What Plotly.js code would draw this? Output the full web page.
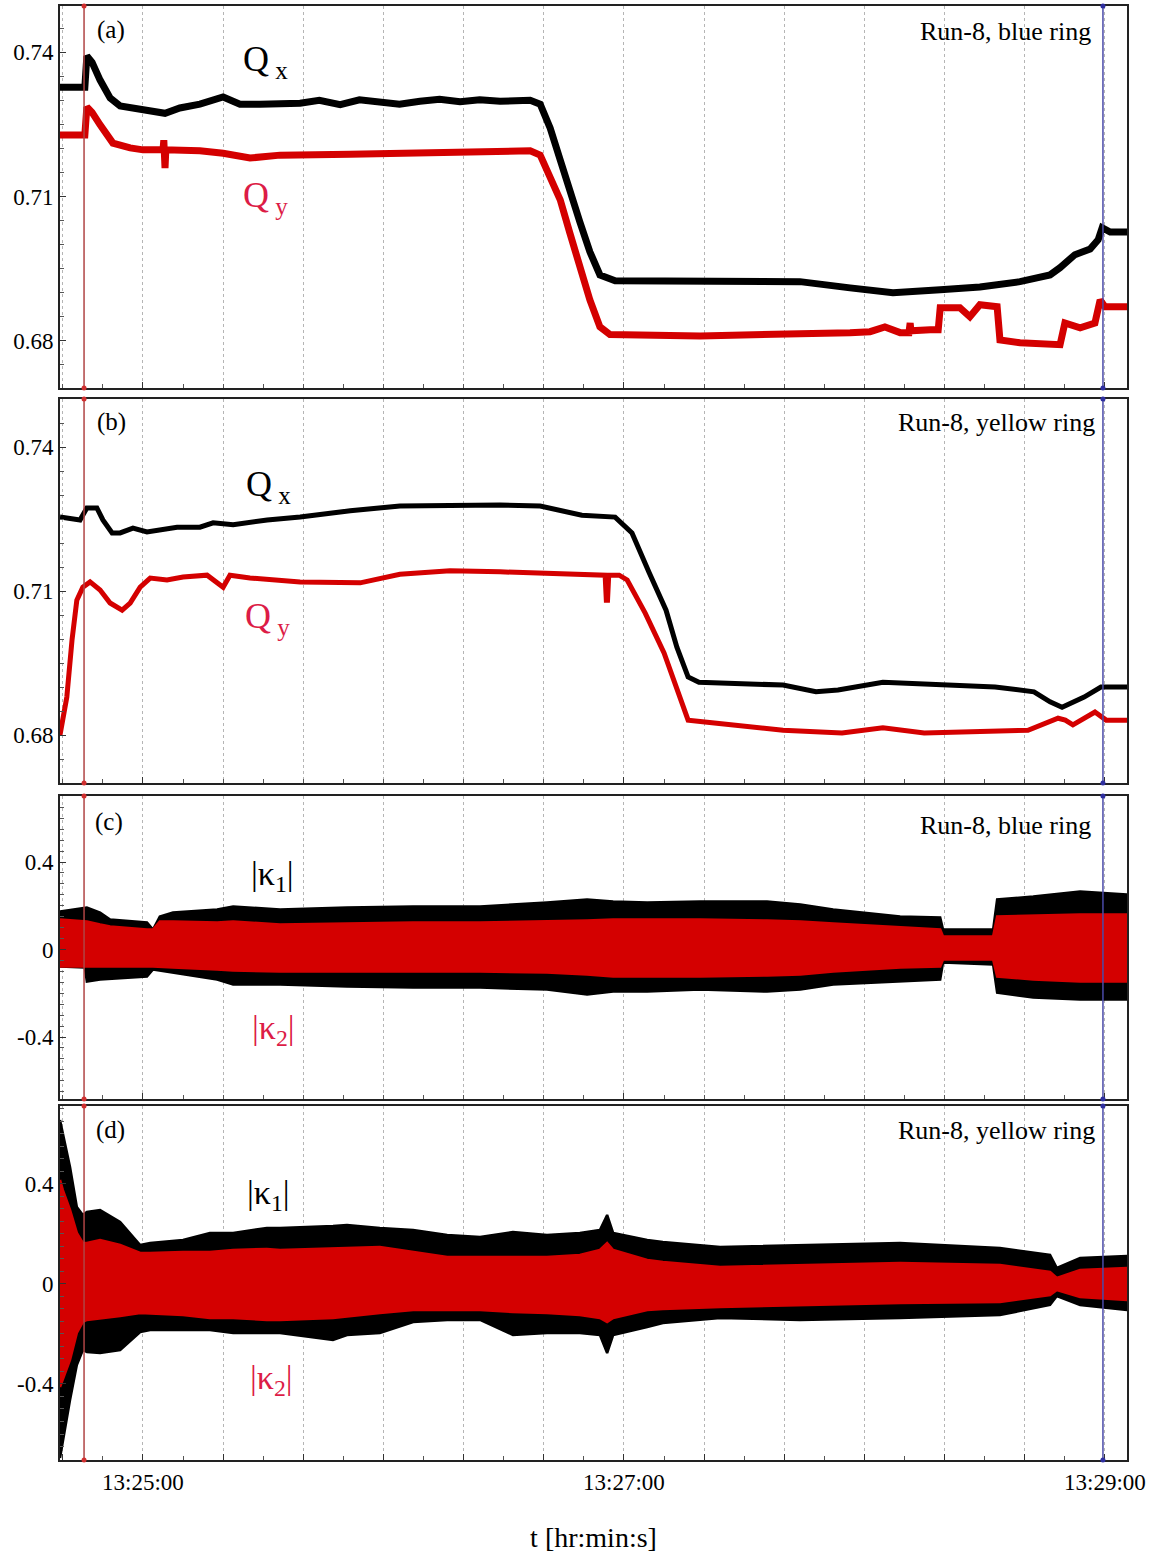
<!DOCTYPE html>
<html><head><meta charset="utf-8">
<script src="https://cdn.plot.ly/plotly-3.0.1.min.js"></script>
<style>body{margin:0;background:#fff}</style>
</head><body><div id="chart" style="width:1159px;height:1559px"></div>
<script>
// time in seconds after 13:24:00
const xGridTimes = [40,60,80,100,120,140,160,180,200,220,240,260,280,300];
const xTickLabels = ['','13:25:00','','','','','','13:27:00','','','','','','13:29:00'];
const cursorTimes = [45.3, 299.5];

// (a) blue ring tunes
const tA_Qx = [39.3,45.5,46.0,47.3,49.3,51.8,54.3,59.3,63.0,65.5,69.2,74.2,80.0,84.2,89.2,99.2,104.0,109.2,114.0,119.1,124.0,129.1,134.0,139.1,144.0,149.1,156.6,159.1,161.6,164.1,166.5,169.0,171.5,174.0,177.8,186.5,199.0,211.5,223.9,236.4,247.1,258.9,268.8,278.8,286.3,288.8,292.5,296.3,298.3,299.3,301.3,305.5];
const qxA = [0.7327,0.7327,0.7392,0.7379,0.7342,0.7305,0.7288,0.7280,0.7275,0.7273,0.7284,0.7292,0.7307,0.7292,0.7292,0.7294,0.7300,0.7291,0.7301,0.7296,0.7292,0.7298,0.7302,0.7297,0.7301,0.7298,0.7300,0.7292,0.7242,0.7176,0.7109,0.7047,0.6985,0.6937,0.6925,0.6925,0.6925,0.6925,0.6923,0.6910,0.6900,0.6906,0.6912,0.6923,0.6937,0.6952,0.6979,0.6991,0.7010,0.7035,0.7026,0.7026];
const tA_Qy = [39.3,45.5,46.0,47.3,49.3,52.5,56.8,60.0,65.0,65.2,65.5,65.7,74.2,80.0,86.7,94.2,111.7,129.1,144.1,156.6,159.1,161.6,164.1,166.5,169.0,171.5,174.0,176.5,199.0,223.9,236.4,241.4,245.1,248.9,251.1,251.4,251.6,256.4,258.4,258.9,263.8,266.3,268.8,273.1,273.8,278.8,288.8,290.0,293.8,297.5,298.8,300.0,305.5];
const qyA = [0.7228,0.7228,0.7286,0.7275,0.7249,0.7211,0.7201,0.7197,0.7197,0.7217,0.7159,0.7197,0.7195,0.7190,0.7180,0.7186,0.7188,0.7190,0.7192,0.7195,0.7186,0.7141,0.7093,0.7024,0.6954,0.6885,0.6829,0.6813,0.6810,0.6813,0.6817,0.6819,0.6829,0.6817,0.6817,0.6837,0.6821,0.6823,0.6823,0.6869,0.6869,0.6850,0.6875,0.6871,0.6802,0.6796,0.6792,0.6837,0.6827,0.6837,0.6885,0.6871,0.6871];

// (b) yellow ring tunes
const tB_Qx = [39.3,44.3,46.0,48.5,50.0,52.3,54.3,57.5,61.0,63.5,68.5,74.2,77.5,82.5,91.0,99.2,111.7,124.1,136.6,149.1,159.1,169.5,177.8,182.0,186.3,190.5,193.2,196.0,198.7,208.5,219.7,227.9,233.4,244.6,258.6,272.6,282.3,286.3,289.3,294.8,299.0,305.5];
const qxB = [0.7254,0.7248,0.7273,0.7273,0.7248,0.7221,0.7221,0.7231,0.7223,0.7227,0.7233,0.7233,0.7242,0.7238,0.7248,0.7254,0.7267,0.7277,0.7279,0.7279,0.7277,0.7258,0.7254,0.7221,0.7138,0.7060,0.6983,0.6921,0.6910,0.6908,0.6904,0.6890,0.6894,0.6910,0.6904,0.6900,0.6890,0.6869,0.6858,0.6879,0.6900,0.6900];
const tB_Qy = [39.3,41.0,42.3,43.5,45.0,46.8,49.3,51.8,54.8,56.8,59.3,61.8,66.0,70.0,76.0,78.5,80.0,81.7,86.7,99.2,114.2,124.1,136.6,149.1,164.1,175.3,175.6,175.9,176.2,178.8,180.8,185.3,190.0,193.7,196.0,200.2,219.7,234.4,244.6,254.9,262.4,280.8,288.3,290.1,292.0,297.5,300.3,305.5];
const qyB = [0.6800,0.6879,0.6998,0.7081,0.7108,0.7119,0.7102,0.7075,0.7060,0.7075,0.7108,0.7127,0.7123,0.7129,0.7133,0.7119,0.7108,0.7133,0.7127,0.7119,0.7117,0.7135,0.7142,0.7140,0.7135,0.7133,0.7081,0.7081,0.7133,0.7133,0.7123,0.7054,0.6971,0.6888,0.6831,0.6827,0.6810,0.6804,0.6815,0.6804,0.6806,0.6810,0.6835,0.6831,0.6821,0.6848,0.6831,0.6831];

// (c) blue ring coupling envelopes
const tC = [39.3,45.5,46.0,49.3,51.8,61.0,62.5,64.2,67.5,78.5,82.5,94.2,110.9,127.4,144.1,160.8,170.8,177.3,185.8,199.0,215.7,224.0,232.2,248.9,258.9,259.6,272.1,273.1,282.1,293.8,305.5];
const k1UpC = [0.1737,0.1920,0.1920,0.1691,0.1371,0.1234,0.0914,0.1508,0.1691,0.1828,0.1966,0.1828,0.1920,0.1966,0.1966,0.2148,0.2286,0.2194,0.2148,0.2194,0.2194,0.2057,0.1828,0.1508,0.1463,0.0914,0.0914,0.2286,0.2423,0.2651,0.2514];
const k1LoC = [-0.0777,-0.0823,-0.1463,-0.1371,-0.1326,-0.1234,-0.0914,-0.0960,-0.1051,-0.1371,-0.1600,-0.1600,-0.1691,-0.1737,-0.1737,-0.1828,-0.2057,-0.1920,-0.1920,-0.1828,-0.1920,-0.1828,-0.1600,-0.1463,-0.1371,-0.0594,-0.0686,-0.1966,-0.2194,-0.2286,-0.2286];
const k2UpC = [0.1371,0.1280,0.1280,0.1143,0.1051,0.0914,0.0914,0.1280,0.1280,0.1234,0.1280,0.1143,0.1188,0.1234,0.1234,0.1280,0.1326,0.1371,0.1371,0.1371,0.1326,0.1280,0.1188,0.1006,0.0914,0.0594,0.0594,0.1508,0.1554,0.1600,0.1600];
const k2LoC = [-0.0777,-0.0777,-0.0777,-0.0777,-0.0777,-0.0777,-0.0777,-0.0777,-0.0823,-0.0914,-0.0960,-0.1006,-0.1006,-0.1006,-0.1006,-0.1051,-0.1143,-0.1234,-0.1234,-0.1234,-0.1188,-0.1143,-0.1006,-0.0823,-0.0777,-0.0457,-0.0457,-0.1234,-0.1371,-0.1463,-0.1463];

// (d) yellow ring coupling envelopes
const tD = [39.3,40.0,41.8,43.5,45.0,46.0,49.3,54.3,59.3,61.8,70.0,76.7,82.5,90.9,94.2,107.4,110.9,119.1,127.4,135.9,144.1,152.3,160.8,169.0,174.0,175.8,177.3,185.8,189.7,204.0,223.9,248.9,273.8,286.3,288.0,293.8,305.5];
const k1UpD = [0.656,0.604,0.468,0.308,0.276,0.288,0.296,0.248,0.156,0.164,0.176,0.204,0.204,0.224,0.224,0.232,0.236,0.224,0.216,0.196,0.188,0.208,0.196,0.204,0.216,0.276,0.204,0.176,0.168,0.148,0.156,0.164,0.144,0.116,0.064,0.104,0.112];
const k1LoD = [-0.696,-0.624,-0.464,-0.324,-0.264,-0.272,-0.276,-0.264,-0.192,-0.184,-0.184,-0.184,-0.196,-0.196,-0.196,-0.224,-0.204,-0.196,-0.152,-0.144,-0.144,-0.204,-0.196,-0.196,-0.204,-0.276,-0.204,-0.172,-0.156,-0.136,-0.144,-0.136,-0.124,-0.084,-0.048,-0.084,-0.104];
const k2UpD = [0.416,0.376,0.296,0.204,0.164,0.164,0.176,0.156,0.124,0.124,0.128,0.128,0.136,0.140,0.136,0.144,0.144,0.148,0.128,0.108,0.108,0.108,0.108,0.116,0.136,0.164,0.136,0.096,0.088,0.068,0.076,0.084,0.076,0.048,0.024,0.056,0.064];
const k2LoD = [-0.412,-0.384,-0.304,-0.196,-0.152,-0.144,-0.136,-0.128,-0.116,-0.116,-0.124,-0.136,-0.136,-0.144,-0.144,-0.136,-0.128,-0.116,-0.104,-0.104,-0.104,-0.112,-0.116,-0.124,-0.136,-0.152,-0.136,-0.104,-0.100,-0.092,-0.084,-0.076,-0.072,-0.044,-0.024,-0.052,-0.064];

const qTicks = [0.68,0.71,0.74], qTickText = ['0.68','0.71','0.74'];
const kTicks = [-0.4,0,0.4], kTickText = ['-0.4','0','0.4'];

const BLACK = '#000000', RED = '#d40000', LABELRED = '#dc1c46';
const SERIF = '"Liberation Serif", "Times New Roman", serif';

function band(t, up, lo, color, xa, ya) {
  return {x: t.concat(t.slice().reverse()), y: up.concat(lo.slice().reverse()),
    xaxis: xa, yaxis: ya, mode: 'lines', fill: 'toself', fillcolor: color,
    line: {color: color, width: 2.5}, hoverinfo: 'skip', showlegend: false};
}
function line(t, v, color, w, xa, ya) {
  return {x: t, y: v, xaxis: xa, yaxis: ya, mode: 'lines',
    line: {color: color, width: w}, showlegend: false};
}

const data = [
  line(tA_Qx, qxA, BLACK, 7, 'x', 'y'),
  line(tA_Qy, qyA, RED, 7, 'x', 'y'),
  line(tB_Qx, qxB, BLACK, 5, 'x2', 'y2'),
  line(tB_Qy, qyB, RED, 5, 'x2', 'y2'),
  band(tC, k1UpC, k1LoC, BLACK, 'x3', 'y3'),
  band(tC, k2UpC, k2LoC, RED, 'x3', 'y3'),
  band(tD, k1UpD, k1LoD, BLACK, 'x4', 'y4'),
  band(tD, k2UpD, k2LoD, RED, 'x4', 'y4')
];

const TICKFONT = {family: SERIF, size: 23, color: '#000'};

function xAxis(anchor, labels) {
  const ax = {
    anchor: anchor, range: [39.3, 305.5],
    tickmode: 'array', tickvals: xGridTimes, ticktext: xTickLabels,
    showticklabels: labels, ticks: 'inside', ticklen: 6, tickcolor: '#333',
    tickfont: TICKFONT,
    showgrid: true, gridcolor: '#b5b5b5', gridwidth: 1, griddash: 'dot',
    minor: {dtick: 10, tick0: 0, ticks: 'inside', ticklen: 4, tickcolor: '#555', showgrid: false},
    showline: true, mirror: true, linecolor: '#222', linewidth: 2, zeroline: false
  };
  if (anchor !== 'y4') ax.matches = 'x4';
  return ax;
}
function yAxis(anchor, domain, range, tv, tt, minorDt) {
  return {
    anchor: anchor, domain: domain, range: range,
    tickmode: 'array', tickvals: tv, ticktext: tt,
    ticks: 'inside', ticklen: 6, tickcolor: '#333',
    tickfont: TICKFONT,
    minor: {dtick: minorDt, tick0: 0, ticks: 'inside', ticklen: 4, tickcolor: '#555', showgrid: false},
    showgrid: false, zeroline: false,
    showline: true, mirror: true, linecolor: '#222', linewidth: 2
  };
}

// pixel -> paper helpers for text placement
const ML = 60, MT = 6, PW = 1067, PH = 1454;
const px = x => (x - ML) / PW;
const py = y => 1 - (y - MT) / PH;

function ann(text, x, y, size, color, xanchor) {
  return {text: text, xref: 'paper', yref: 'paper', x: px(x), y: py(y),
    xanchor: xanchor || 'center', yanchor: 'middle', showarrow: false,
    font: {family: SERIF, size: size, color: color}};
}

const annotations = [
  ann('(a)', 111, 30, 25, '#000'),
  ann('Run-8, blue ring', 1093, 31, 26, '#000', 'right'),
  ann('Q<sub> x</sub>', 265, 62, 36, '#000'),
  ann('Q<sub> y</sub>', 265, 197, 36, LABELRED),
  ann('(b)', 111, 422, 25, '#000'),
  ann('Run-8, yellow ring', 1097, 422, 26, '#000', 'right'),
  ann('Q<sub> x</sub>', 268, 486, 36, '#000'),
  ann('Q<sub> y</sub>', 267, 618, 36, LABELRED),
  ann('(c)', 109, 822, 25, '#000'),
  ann('Run-8, blue ring', 1093, 825, 26, '#000', 'right'),
  ann('|κ<sub>1</sub>|', 272, 876, 34, '#000'),
  ann('|κ<sub>2</sub>|', 273, 1030, 34, LABELRED),
  ann('(d)', 110, 1130, 25, '#000'),
  ann('Run-8, yellow ring', 1097, 1130, 26, '#000', 'right'),
  ann('|κ<sub>1</sub>|', 268, 1195, 34, '#000'),
  ann('|κ<sub>2</sub>|', 271, 1380, 34, LABELRED)
];

const shapes = [];
const cursorColors = ['#b04444', '#4a4aa8'];
const cursorDots = ['#d03030', '#3030a0'];
['y', 'y2', 'y3', 'y4'].forEach(ya => {
  cursorTimes.forEach((ct, i) => {
    shapes.push({type: 'line', xref: 'x', yref: ya + ' domain', x0: ct, x1: ct, y0: 0, y1: 1,
      line: {color: cursorColors[i], width: 1.5}});
    [0, 1].forEach(yy => shapes.push({type: 'circle', xref: 'x', yref: ya + ' domain',
      xsizemode: 'pixel', ysizemode: 'pixel', xanchor: ct, yanchor: yy,
      x0: -2.5, x1: 2.5, y0: -2.5, y1: 2.5,
      fillcolor: cursorDots[i], line: {width: 0}}));
  });
});

const layout = {
  width: 1159, height: 1559,
  margin: {l: 60, r: 32, t: 6, b: 99},
  font: {family: SERIF, color: '#000'},
  paper_bgcolor: '#fff', plot_bgcolor: '#fff',
  showlegend: false,
  xaxis: xAxis('y', false),
  xaxis2: xAxis('y2', false),
  xaxis3: xAxis('y3', false),
  xaxis4: Object.assign(xAxis('y4', true), {
    title: {text: 't [hr:min:s]', font: {family: SERIF, size: 28, color: '#000'}, standoff: 34}
  }),
  yaxis: yAxis('x', [0.7373, 1], [0.6702, 0.7496], qTicks, qTickText, 0.005),
  yaxis2: yAxis('x2', [0.4656, 0.7297], [0.670, 0.750], qTicks, qTickText, 0.005),
  yaxis3: yAxis('x3', [0.2483, 0.4567], [-0.683, 0.702], kTicks, kTickText, 0.05),
  yaxis4: yAxis('x4', [0, 0.2435], [-0.704, 0.712], kTicks, kTickText, 0.05),
  annotations: annotations,
  shapes: shapes
};

Plotly.newPlot('chart', data, layout, {displayModeBar: false});
</script></body></html>
